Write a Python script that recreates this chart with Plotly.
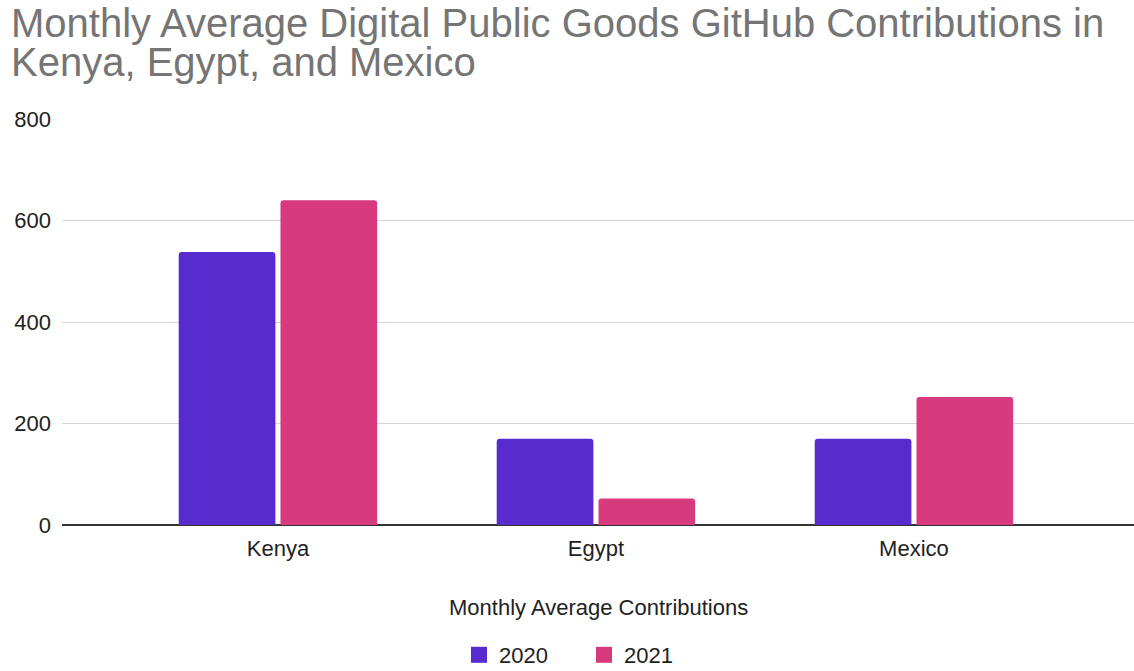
import plotly.graph_objects as go

countries = ["Kenya", "Egypt", "Mexico"]
vals_2020 = [538, 170, 170]
vals_2021 = [640, 52, 252]
series_names = ["2020", "2021"]
colors = ["#582bcf", "#d83a7e"]
y_ticks = [0, 200, 400, 600, 800]

FONT = "Liberation Sans, Arial, sans-serif"
H = 671
T = 119
PH = H - T  # paper height in px (bottom margin 0)


def py(pix):
    """convert a pixel row to paper y fraction"""
    return (H - pix) / PH


fig = go.Figure()
for name, vals, col in zip(series_names, [vals_2020, vals_2021], colors):
    fig.add_trace(go.Bar(x=countries, y=vals, name=name, marker=dict(color=col, line=dict(width=0)),
                         showlegend=False))
    # legend proxies with larger square swatches
    fig.add_trace(go.Scatter(x=[None], y=[None], mode="markers", name=name,
                             marker=dict(symbol="square", size=23, color=col)))

fig.update_layout(
    width=1134, height=H,
    margin=dict(l=62, r=0, t=T, b=0, autoexpand=False),
    paper_bgcolor="white", plot_bgcolor="white",
    barmode="group", bargap=0.36, bargroupgap=0.05, barcornerradius=3,
    font=dict(family=FONT, size=22, color="#222222"),
    showlegend=True,
    legend=dict(orientation="h", x=(584 - 62) / 1072, xanchor="center", y=py(655), yanchor="middle",
                font=dict(size=22, color="#222222"), tracegroupgap=0,
                entrywidth=80, entrywidthmode="pixels"),
    xaxis=dict(range=[-0.679, 2.692], showgrid=False, zeroline=False, showline=False,
               automargin=False,
               tickfont=dict(size=22, color="#222222"), ticks="", ticklabelstandoff=8),
    yaxis=dict(range=[0, 800], domain=[py(525), 1], tickvals=y_ticks, showgrid=True,
               automargin=False,
               gridcolor="#d6d6d6", gridwidth=1, zeroline=True, zerolinecolor="#333333",
               zerolinewidth=1.5, showline=False, tickfont=dict(size=22, color="#222222"),
               ticks="", ticklabelstandoff=10),
)

fig.add_annotation(text="Monthly Average Digital Public Goods GitHub Contributions in",
                   xref="paper", yref="paper", x=(9 - 62) / 1072, y=py(23), xanchor="left",
                   yanchor="middle", showarrow=False,
                   font=dict(family=FONT, size=40, color="#757575"))
fig.add_annotation(text="Kenya, Egypt, and Mexico",
                   xref="paper", yref="paper", x=(9 - 62) / 1072, y=py(62), xanchor="left",
                   yanchor="middle", showarrow=False,
                   font=dict(family=FONT, size=40, color="#757575"))
fig.add_annotation(text="Monthly Average Contributions",
                   xref="paper", yref="paper", x=0.5, y=py(607.5), xanchor="center",
                   yanchor="middle", showarrow=False,
                   font=dict(family=FONT, size=22, color="#222222"))

fig.write_html("out.html")
